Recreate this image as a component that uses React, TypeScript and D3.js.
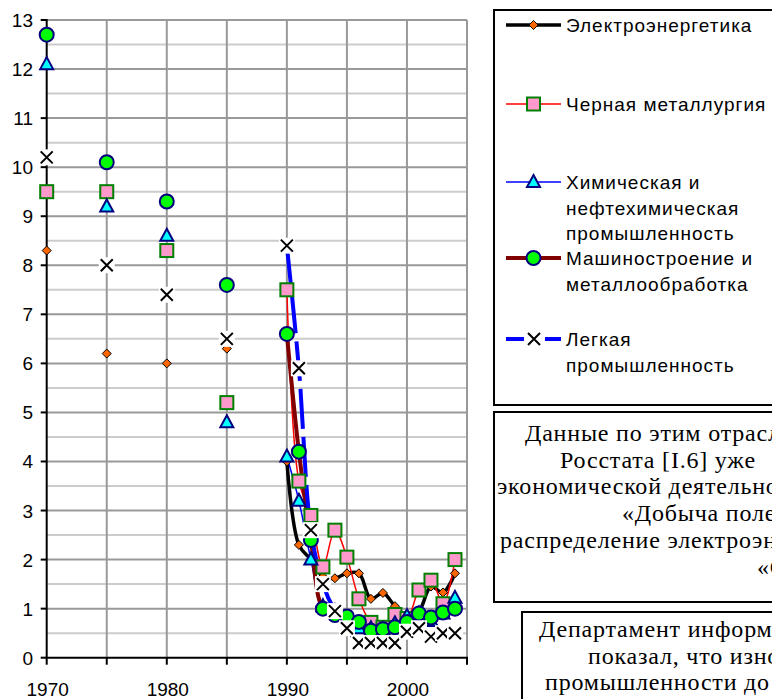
import React from 'react';
import * as d3 from 'd3';

// years with only point estimates (no connecting line)
const earlyYears = [1970, 1975, 1980, 1985];
// annual data, drawn as smoothed lines
const years = [1990, 1991, 1992, 1993, 1994, 1995, 1996, 1997, 1998, 1999, 2000, 2001, 2002, 2003, 2004];

const electroEarly = [8.3, 6.2, 6.0, 6.3];
const electro = [4.0, 2.3, 2.0, 1.65, 1.62, 1.72, 1.72, 1.2, 1.32, 1.05, 0.85, 0.95, 1.45, 1.33, 1.72];

const chermetEarly = [9.5, 9.5, 8.3, 5.2];
const chermet = [7.5, 3.6, 2.9, 1.85, 2.6, 2.05, 1.2, 0.72, 0.62, 0.88, 0.8, 1.38, 1.58, 1.1, 2.0];

const chemEarly = [12.1, 9.2, 8.6, 4.8];
const chem = [4.1, 3.2, 2.0, 1.05, 0.95, 0.8, 0.6, 0.6, 0.58, 0.7, 0.85, 0.9, 0.75, 0.9, 1.22];

const mashEarly = [12.7, 10.1, 9.3, 7.6];
const mash = [6.6, 4.2, 2.4, 1.0, 0.87, 0.84, 0.73, 0.55, 0.58, 0.62, 0.73, 0.9, 0.82, 0.92, 1.0];

const legkEarly = [10.2, 8.0, 7.4, 6.5];
const legk = [8.4, 5.9, 2.6, 1.5, 0.95, 0.6, 0.3, 0.3, 0.3, 0.3, 0.53, 0.6, 0.43, 0.5, 0.5];

const yTicks = [0, 1, 2, 3, 4, 5, 6, 7, 8, 9, 10, 11, 12, 13];
const xTicks = [1970, 1975, 1980, 1985, 1990, 1995, 2000, 2005];
const xLabels = [1970, 1980, 1990, 2000];

const legendNames = [
  ['Электроэнергетика'],
  ['Черная металлургия'],
  ['Химическая и', 'нефтехимическая', 'промышленность'],
  ['Машиностроение и', 'металлообработка'],
  ['Легкая', 'промышленность'],
];

const box1Lines = [
  'Данные по этим отраслям',
  'Росстата [I.6] уже',
  'экономической деятельности',
  '«Добыча полезных',
  'распределение электроэнергии',
  '«С',
];
const box2Lines = ['Департамент информации', 'показал, что износ', 'промышленности до'];

const SANS = 'Liberation Sans, Arial, sans-serif';
const SERIF = 'Liberation Serif, Times New Roman, serif';

type Kind = 'diamond' | 'square' | 'triangle' | 'circle' | 'cross';

const Marker = ({ kind, cx, cy }: { kind: Kind; cx: number; cy: number }) => {
  if (kind === 'diamond') {
    return <path d={`M${cx},${cy - 4.5}L${cx + 4.5},${cy}L${cx},${cy + 4.5}L${cx - 4.5},${cy}Z`} fill="#FF6600" stroke="#000" strokeWidth={1} />;
  }
  if (kind === 'square') {
    return <rect x={cx - 6.5} y={cy - 6.5} width={13} height={13} fill="#FF99CC" stroke="#008000" strokeWidth={2} />;
  }
  if (kind === 'triangle') {
    return <path d={`M${cx},${cy - 7}L${cx + 6.5},${cy + 5}L${cx - 6.5},${cy + 5}Z`} fill="#00FFFF" stroke="#000080" strokeWidth={2} />;
  }
  if (kind === 'circle') {
    return <circle cx={cx} cy={cy} r={7} fill="#00FF00" stroke="#000080" strokeWidth={2} />;
  }
  return (
    <g>
      <rect x={cx - 8} y={cy - 8} width={16} height={16} fill="#fff" />
      <path d={`M${cx - 6},${cy - 6}L${cx + 6},${cy + 6}M${cx + 6},${cy - 6}L${cx - 6},${cy + 6}`} stroke="#000" strokeWidth={2} />
    </g>
  );
};

const series = [
  { early: electroEarly, late: electro, color: '#000000', width: 3.5, dash: undefined, kind: 'diamond' as Kind },
  { early: chermetEarly, late: chermet, color: '#FF0000', width: 1.5, dash: undefined, kind: 'square' as Kind },
  { early: chemEarly, late: chem, color: '#0000FF', width: 1.5, dash: undefined, kind: 'triangle' as Kind },
  { early: mashEarly, late: mash, color: '#800000', width: 4, dash: undefined, kind: 'circle' as Kind },
  { early: legkEarly, late: legk, color: '#0000FF', width: 4, dash: '40,8', kind: 'cross' as Kind },
];

export default function App() {
  const x = d3.scaleLinear().domain([1970, 2005]).range([46.7, 467]);
  const y = d3.scaleLinear().domain([0, 13]).range([657.7, 20]);

  const line = d3
    .line<number>()
    .x((_, i) => x(years[i]))
    .y((d) => y(d))
    .curve(d3.curveCatmullRom);

  const minor = d3.range(0.5, 13, 1);
  const legendY = [25, 104, 182, 258, 339];

  return (
    <svg width={772} height={699} style={{ position: 'absolute', left: 0, top: 0, background: '#fff' }}>
      <rect x={0} y={0} width={772} height={699} fill="#fff" />

      {/* grid */}
      {minor.map((v) => (
        <line key={'m' + v} x1={x(1970)} x2={x(2005)} y1={y(v)} y2={y(v)} stroke="#CCCCCC" strokeWidth={2} />
      ))}
      {yTicks.slice(1).map((v) => (
        <line key={'h' + v} x1={x(1970)} x2={x(2005)} y1={y(v)} y2={y(v)} stroke="#999999" strokeWidth={2} />
      ))}
      {xTicks.slice(1).map((v) => (
        <line key={'v' + v} x1={x(v)} x2={x(v)} y1={y(0)} y2={y(13)} stroke="#999999" strokeWidth={2} />
      ))}

      {/* axes */}
      <line x1={x(1970)} x2={x(1970)} y1={y(13) - 1} y2={y(0)} stroke="#000" strokeWidth={2} />
      <line x1={x(1970) - 1} x2={x(2005) + 1} y1={y(0)} y2={y(0)} stroke="#000" strokeWidth={2} />
      {yTicks.map((v) => (
        <g key={'yt' + v}>
          <line x1={x(1970) - 6} x2={x(1970)} y1={y(v)} y2={y(v)} stroke="#000" strokeWidth={2} />
          <text x={33} y={y(v) + 7} textAnchor="end" fontFamily={SANS} fontSize={19}>
            {v}
          </text>
        </g>
      ))}
      {xTicks.map((v) => (
        <line key={'xt' + v} x1={x(v)} x2={x(v)} y1={y(0)} y2={y(0) + 7} stroke="#000" strokeWidth={2} />
      ))}
      {xLabels.map((v) => (
        <text key={'xl' + v} x={x(v) + 1} y={696} textAnchor="middle" fontFamily={SANS} fontSize={19}>
          {v}
        </text>
      ))}

      {/* lines */}
      {series.map((s, i) => (
        <path key={'l' + i} d={line(s.late) || ''} fill="none" stroke={s.color} strokeWidth={s.width} strokeDasharray={s.dash} strokeLinejoin="round" />
      ))}

      {/* markers */}
      {series.map((s, i) => (
        <g key={'mk' + i}>
          {s.early.map((v, j) => (
            <Marker key={'e' + j} kind={s.kind} cx={x(earlyYears[j])} cy={y(v)} />
          ))}
          {s.late.map((v, j) => (
            <Marker key={'a' + j} kind={s.kind} cx={x(years[j])} cy={y(v)} />
          ))}
        </g>
      ))}

      {/* legend */}
      <rect x={494} y={10} width={300} height={395} fill="#fff" stroke="#000" strokeWidth={2} />
      {series.map((s, i) => (
        <g key={'lg' + i}>
          {s.kind === 'cross' ? (
            <>
              <line x1={506} x2={524} y1={legendY[i]} y2={legendY[i]} stroke={s.color} strokeWidth={s.width} />
              <line x1={545} x2={561} y1={legendY[i]} y2={legendY[i]} stroke={s.color} strokeWidth={s.width} />
              <path d={`M${528},${legendY[i] - 6}L${540},${legendY[i] + 6}M${540},${legendY[i] - 6}L${528},${legendY[i] + 6}`} stroke="#000" strokeWidth={2} />
            </>
          ) : (
            <>
              <line x1={506} x2={561} y1={legendY[i]} y2={legendY[i]} stroke={s.color} strokeWidth={s.width} />
              <Marker kind={s.kind} cx={533.5} cy={legendY[i]} />
            </>
          )}
          {legendNames[i].map((t, k) => (
            <text key={k} x={566} y={legendY[i] + 7 + k * 25.5} fontFamily={SANS} fontSize={19} letterSpacing={1}>
              {t}
            </text>
          ))}
        </g>
      ))}

      {/* text boxes */}
      <rect x={494} y={412} width={300} height={190} fill="#fff" stroke="#000" strokeWidth={2} />
      {box1Lines.map((t, k) => (
        <text key={'b1' + k} x={[525, 560, 497, 622, 500, 757][k]} y={441 + k * 26.7} fontFamily={SERIF} fontSize={24} letterSpacing={0.8}>
          {t}
        </text>
      ))}
      <rect x={522} y={612} width={300} height={100} fill="#fff" stroke="#000" strokeWidth={2} />
      {box2Lines.map((t, k) => (
        <text key={'b2' + k} x={[539, 588, 545][k]} y={637 + k * 26.5} fontFamily={SERIF} fontSize={24} letterSpacing={0.8}>
          {t}
        </text>
      ))}
    </svg>
  );
}
